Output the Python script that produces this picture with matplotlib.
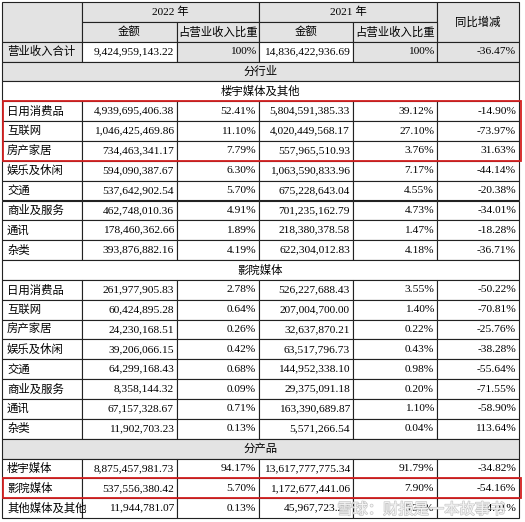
import matplotlib.pyplot as plt
from matplotlib.patches import Rectangle

plt.rcParams['font.family'] = ['Liberation Serif', 'Noto Sans CJK SC', 'DejaVu Sans']

years = ["2022 年", "2021 年"]
sub_headers = ["金额", "占营业收入比重", "金额", "占营业收入比重"]
change_header = "同比增减"
total_row = ["营业收入合计", "9,424,959,143.22", "100%", "14,836,422,936.69", "100%", "-36.47%"]

industry_title = "分行业"
section1 = "楼宇媒体及其他"
section1_rows = [
    ["日用消费品", "4,939,695,406.38", "52.41%", "5,804,591,385.33", "39.12%", "-14.90%"],
    ["互联网", "1,046,425,469.86", "11.10%", "4,020,449,568.17", "27.10%", "-73.97%"],
    ["房产家居", "734,463,341.17", "7.79%", "557,965,510.93", "3.76%", "31.63%"],
    ["娱乐及休闲", "594,090,387.67", "6.30%", "1,063,590,833.96", "7.17%", "-44.14%"],
    ["交通", "537,642,902.54", "5.70%", "675,228,643.04", "4.55%", "-20.38%"],
    ["商业及服务", "462,748,010.36", "4.91%", "701,235,162.79", "4.73%", "-34.01%"],
    ["通讯", "178,460,362.66", "1.89%", "218,380,378.58", "1.47%", "-18.28%"],
    ["杂类", "393,876,882.16", "4.19%", "622,304,012.83", "4.18%", "-36.71%"],
]
section2 = "影院媒体"
section2_rows = [
    ["日用消费品", "261,977,905.83", "2.78%", "526,227,688.43", "3.55%", "-50.22%"],
    ["互联网", "60,424,895.28", "0.64%", "207,004,700.00", "1.40%", "-70.81%"],
    ["房产家居", "24,230,168.51", "0.26%", "32,637,870.21", "0.22%", "-25.76%"],
    ["娱乐及休闲", "39,206,066.15", "0.42%", "63,517,796.73", "0.43%", "-38.28%"],
    ["交通", "64,299,168.43", "0.68%", "144,952,338.10", "0.98%", "-55.64%"],
    ["商业及服务", "8,358,144.32", "0.09%", "29,375,091.18", "0.20%", "-71.55%"],
    ["通讯", "67,157,328.67", "0.71%", "163,390,689.87", "1.10%", "-58.90%"],
    ["杂类", "11,902,703.23", "0.13%", "5,571,266.54", "0.04%", "113.64%"],
]
product_title = "分产品"
product_rows = [
    ["楼宇媒体", "8,875,457,981.73", "94.17%", "13,617,777,775.34", "91.79%", "-34.82%"],
    ["影院媒体", "537,556,380.42", "5.70%", "1,172,677,441.06", "7.90%", "-54.16%"],
    ["其他媒体及其他", "11,944,781.07", "0.13%", "45,967,723.29", "0.31%", "-74.01%"],
]

W, H = 525, 522
cols = [2, 82, 177, 259, 353, 437, 519]
top, rh = 2, 19.85
GRAY = "#e3e3e3"
FS = 8.2

fig = plt.figure(figsize=(W / 100, H / 100), dpi=100)
ax = fig.add_axes([0, 0, 1, 1])
ax.set_xlim(0, W)
ax.set_ylim(H, 0)
ax.axis("off")


def cell(x0, x1, y0, y1, text="", align="center", fill="white"):
    ax.add_patch(Rectangle((x0, y0), x1 - x0, y1 - y0, facecolor=fill,
                           edgecolor="#222222", linewidth=0.8))
    if not text:
        return
    y = (y0 + y1) / 2
    if align == "left":
        ax.text(x0 + 5, y, text, ha="left", va="center", fontsize=FS)
    elif align == "right":
        ax.text(x1 - 3, y, text, ha="right", va="center", fontsize=FS)
    else:
        ax.text((x0 + x1) / 2, y, text, ha="center", va="center", fontsize=FS)


def data_row(r, vals, gray_cols=()):
    y0, y1 = top + r * rh, top + (r + 1) * rh
    for i, v in enumerate(vals):
        fill = GRAY if i in gray_cols else "white"
        cell(cols[i], cols[i + 1], y0, y1, v, "left" if i == 0 else "right", fill)


def span_row(r, text, fill="white"):
    cell(cols[0], cols[-1], top + r * rh, top + (r + 1) * rh, text, "center", fill)


# header
cell(cols[0], cols[1], top, top + 2 * rh, fill=GRAY)
cell(cols[1], cols[3], top, top + rh, years[0], fill=GRAY)
cell(cols[3], cols[5], top, top + rh, years[1], fill=GRAY)
cell(cols[5], cols[6], top, top + 2 * rh, change_header, fill=GRAY)
for i, s in enumerate(sub_headers):
    cell(cols[i + 1], cols[i + 2], top + rh, top + 2 * rh, s, fill=GRAY)

r = 2
data_row(r, total_row, gray_cols=(0, 2, 4, 5)); r += 1
span_row(r, industry_title, GRAY); r += 1
span_row(r, section1); r += 1
box1 = r
for row in section1_rows:
    data_row(r, row); r += 1
span_row(r, section2); r += 1
for row in section2_rows:
    data_row(r, row); r += 1
span_row(r, product_title, GRAY); r += 1
box2 = None
for row in product_rows:
    if row[0] == "影院媒体":
        box2 = r
    data_row(r, row); r += 1

# red highlight boxes
for start, n in [(box1, 3), (box2, 1)]:
    ax.add_patch(Rectangle((cols[0] + 1, top + start * rh), cols[-1] - cols[0] + 1, n * rh,
                           facecolor="none", edgecolor="#d42020", linewidth=1.3, zorder=5))

ax.text(505, 510, "雪球：财报是一本故事书", ha="right", va="center", fontsize=11,
        color="white", alpha=0.8, zorder=6,
        path_effects=[__import__("matplotlib.patheffects").patheffects.withStroke(linewidth=1, foreground="#bbbbbb")])

fig.savefig("out.png", dpi=100)
